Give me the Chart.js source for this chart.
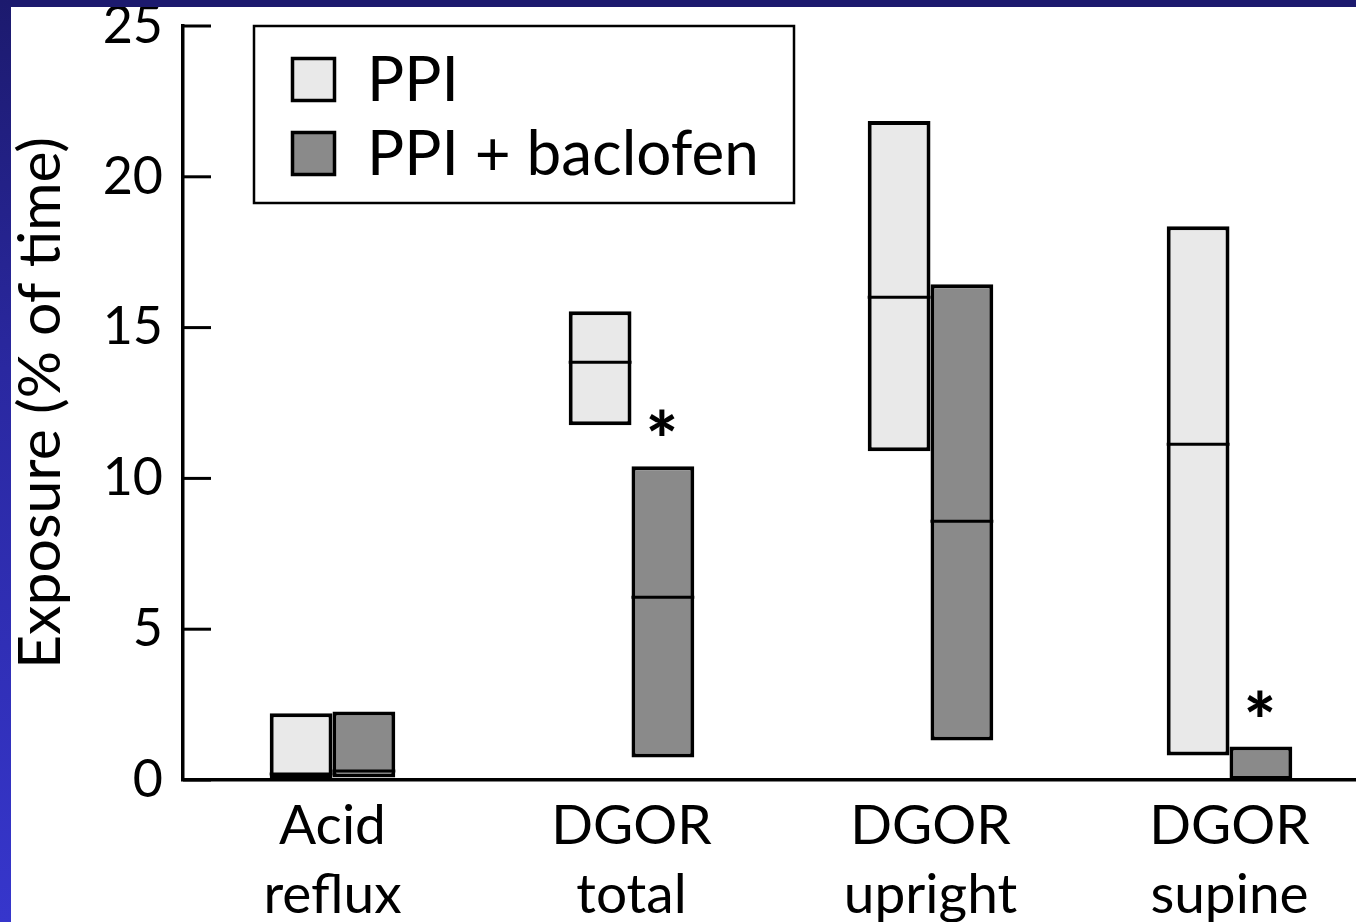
<!DOCTYPE html>
<html>
<head>
<meta charset="utf-8">
<script src="https://cdn.jsdelivr.net/npm/chart.js@4"></script>
<style>
  html, body { margin: 0; padding: 0; background: #ffffff; overflow: hidden; width: 1356px; height: 922px; }
  #frameTop { position: absolute; left: 0; top: 0; width: 1356px; height: 7px; background: #1c1a6e; z-index: 2; }
  #frameLeft { position: absolute; left: 0; top: 0; width: 11px; height: 922px; z-index: 2;
    background: linear-gradient(to bottom, #1c1a6e 0%, #2a28a0 40%, #3636cc 100%); }
  #wrap { position: absolute; left: 11px; top: 7px; width: 1345px; height: 915px; overflow: hidden; background: #ffffff; }
</style>
</head>
<body>
<div id="frameTop"></div>
<div id="frameLeft"></div>
<div id="wrap"><canvas id="c" width="1368" height="915"></canvas></div>
<script>
// ---- data ----
const categories = [["Acid", "reflux"], ["DGOR", "total"], ["DGOR", "upright"], ["DGOR", "supine"]];
const seriesNames = ["PPI", "PPI + baclofen"];
const ppiMin    = [0.05, 11.76, 10.9, 0.81];
const ppiMedian = [0.2, 13.85, 16.01, 11.13];
const ppiMax    = [2.21, 15.54, 21.85, 18.36];
const bacMin    = [0.08, 0.75, 1.31, 0];
const bacMedian = [0.3, 6.06, 8.58, null];
const bacMax    = [2.27, 10.40, 16.44, 1.11];
const significant = [false, true, false, true]; // asterisk above PPI + baclofen
const yTicks = [0, 5, 10, 15, 20, 25];

const FONT = "Lato, 'Open Sans', sans-serif";
const ppiColor = "#e9e9e9";
const bacColor = "#8a8a8a";

const ranges = (lo, hi) => lo.map((v, i) => [v, hi[i]]);

const medianPlugin = {
  id: "medians",
  afterDatasetsDraw(chart) {
    const ctx = chart.ctx;
    const y = chart.scales.y;
    chart.data.datasets.forEach((ds, di) => {
      const meta = chart.getDatasetMeta(di);
      meta.data.forEach((bar, i) => {
        const m = ds.medians[i];
        if (m === null || m === undefined) return;
        const py = y.getPixelForValue(m);
        ctx.save();
        ctx.strokeStyle = "#000";
        ctx.lineWidth = 3;
        ctx.beginPath();
        ctx.moveTo(bar.x - bar.width / 2, py);
        ctx.lineTo(bar.x + bar.width / 2, py);
        ctx.stroke();
        ctx.restore();
      });
    });
    // significance asterisks
    const meta = chart.getDatasetMeta(1);
    meta.data.forEach((bar, i) => {
      if (!significant[i]) return;
      ctx.save();
      ctx.fillStyle = "#000";
      ctx.font = "900 76px " + FONT;
      ctx.textAlign = "center";
      ctx.textBaseline = "alphabetic";
      ctx.fillText("*", bar.x - 1, bar.y + 2);
      ctx.restore();
    });
  }
};

const inwardTicks = {
  id: "inwardTicks",
  afterDraw(chart) {
    const ctx = chart.ctx;
    const y = chart.scales.y;
    const left = chart.chartArea.left;
    ctx.save();
    ctx.strokeStyle = "#000";
    ctx.lineWidth = 3;
    y.ticks.forEach(t => {
      const py = y.getPixelForValue(t.value);
      ctx.beginPath();
      ctx.moveTo(left, py);
      ctx.lineTo(left + 28, py);
      ctx.stroke();
    });
    ctx.restore();
  }
};

const boxedLegend = {
  id: "boxedLegend",
  afterDraw(chart) {
    const ctx = chart.ctx;
    const a = chart.chartArea;
    const bx = a.left + 71, by = a.top, bw = 540, bh = 177;
    ctx.save();
    ctx.fillStyle = "#fff";
    ctx.fillRect(bx, by, bw, bh);
    ctx.strokeStyle = "#000";
    ctx.lineWidth = 2.5;
    ctx.strokeRect(bx, by, bw, bh);
    chart.data.datasets.forEach((ds, i) => {
      const sy = by + 31 + i * 74;
      ctx.fillStyle = ds.backgroundColor;
      ctx.fillRect(bx + 37, sy, 45, 45);
      ctx.lineWidth = 3.5;
      ctx.strokeStyle = "#000";
      ctx.strokeRect(bx + 38.5, sy + 1.5, 42, 42);
      ctx.fillStyle = "#000";
      ctx.font = "62px " + FONT;
      ctx.textAlign = "left";
      ctx.textBaseline = "middle";
      ctx.fillText(ds.label, bx + 113, sy + 24);
    });
    ctx.restore();
  }
};

new Chart(document.getElementById("c"), {
  type: "bar",
  data: {
    labels: categories,
    datasets: [
      { label: seriesNames[0], data: ranges(ppiMin, ppiMax), medians: ppiMedian,
        backgroundColor: ppiColor, borderColor: "#000", borderWidth: 4, borderSkipped: false },
      { label: seriesNames[1], data: ranges(bacMin, bacMax), medians: bacMedian,
        backgroundColor: bacColor, borderColor: "#000", borderWidth: 4, borderSkipped: false }
    ]
  },
  options: {
    responsive: false,
    animation: false,
    layout: { padding: { left: 0, top: 19, right: 0, bottom: 0 } },
    datasets: { bar: { barPercentage: 1.0, categoryPercentage: 0.42 } },
    plugins: { legend: { display: false }, tooltip: { enabled: false } },
    scales: {
      x: {
        grid: { display: false, drawTicks: false },
        border: { display: true, color: "#000", width: 3.5 },
        ticks: { color: "#000", font: { family: FONT, size: 55, lineHeight: 1.25 },
          padding: 12, autoSkip: false, maxRotation: 0, minRotation: 0 },
        afterFit(s) { s.height = 142; s.paddingLeft = 0; s.paddingRight = 0; }
      },
      y: {
        min: 0, max: 25,
        afterBuildTicks(s) { s.ticks = yTicks.map(v => ({ value: v })); },
        grid: { display: false, drawTicks: false },
        border: { display: true, color: "#000", width: 3.5 },
        ticks: { color: "#000", font: { family: FONT, size: 52, lineHeight: 0.7 }, padding: 20 },
        title: { display: true, text: "Exposure (% of time)", color: "#000",
          font: { family: FONT, size: 59, lineHeight: 1.0 }, padding: 0 },
        afterFit(s) { s.width = 172; s.paddingTop = 0; s.paddingBottom = 0; }
      }
    }
  },
  plugins: [medianPlugin, inwardTicks, boxedLegend]
});
</script>
</body>
</html>
